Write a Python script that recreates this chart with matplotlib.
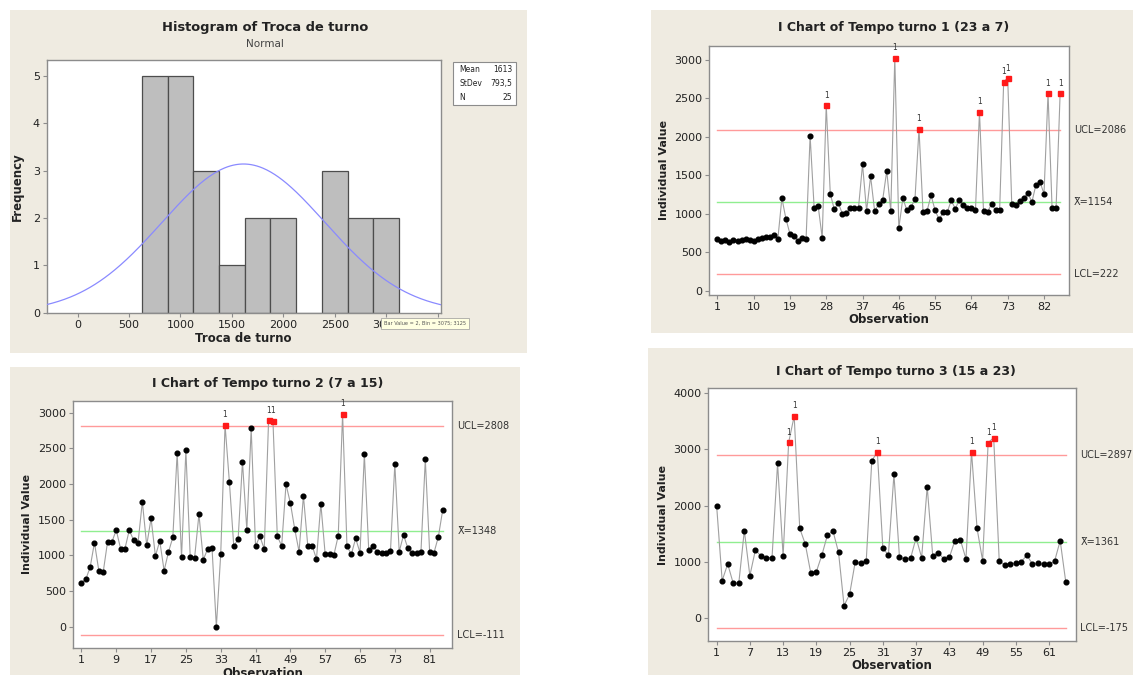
import numpy as np
import matplotlib
matplotlib.use("Agg")
import matplotlib.pyplot as plt
from matplotlib.patches import Rectangle
import matplotlib.transforms as mtransforms

# ---------------- data ----------------
hist_centers = [750, 1000, 1250, 1500, 1750, 2000, 2250, 2500, 2750, 3000]
hist_counts = [5, 5, 3, 1, 2, 2, 0, 3, 2, 2]
hist_mean = 1613
hist_sd = 793.5
hist_n = 25
hist_xticks = [0, 500, 1000, 1500, 2000, 2500, 3000, 3500]

turno1 = [674, 643, 661, 639, 665, 648, 665, 670, 661, 643,
          670, 687, 700, 700, 730, 674, 1204, 935, 739, 717,
          652, 687, 674, 2013, 1078, 1100, 687, 2413, 1261, 1057,
          1139, 1000, 1009, 1078, 1078, 1078, 1643, 1035, 1487, 1035,
          1122, 1183, 1557, 1035, 3030, 813, 1204, 1043, 1087, 1187,
          2105, 1022, 1039, 1239, 1043, 926, 1022, 1022, 1174, 1065,
          1183, 1109, 1078, 1074, 1043, 2326, 1035, 1022, 1130, 1043,
          1043, 2717, 2765, 1130, 1117, 1165, 1204, 1270, 1152, 1378,
          1413, 1261, 2565, 1078, 1078, 2565]
turno1_flags = [28, 45, 51, 66, 72, 73, 83, 86]
turno1_limits = {"UCL": 2086, "X": 1154, "LCL": 222}
turno1_xticks = [1, 10, 19, 28, 37, 46, 55, 64, 73, 82]

turno2 = [617, 664, 832, 1178, 785, 762, 1187, 1187, 1355, 1094,
          1094, 1355, 1210, 1173, 1752, 1140, 1519, 991, 1201, 785,
          1047, 1252, 2439, 972, 2472, 972, 967, 1575, 939, 1089,
          1107, 0, 1014, 2827, 2023, 1131, 1224, 2313, 1355, 2780,
          1131, 1266, 1089, 2895, 2883, 1271, 1131, 1995, 1734, 1369,
          1051, 1836, 1135, 1135, 949, 1724, 1014, 1014, 1005, 1276,
          2981, 1131, 1014, 1238, 1037, 2416, 1075, 1135, 1051, 1028,
          1028, 1065, 2280, 1051, 1285, 1098, 1028, 1028, 1051, 2346,
          1042, 1037, 1262, 1636]
turno2_flags = [34, 44, 45, 61]
turno2_limits = {"UCL": 2808, "X": 1348, "LCL": -111}
turno2_xticks = [1, 9, 17, 25, 33, 41, 49, 57, 65, 73, 81]

turno3 = [2000, 668, 963, 620, 620, 1554, 756, 1211, 1105, 1075,
          1075, 2747, 1105, 3119, 3586, 1595, 1317, 798, 827, 1123,
          1477, 1548, 1170, 225, 425, 993, 981, 1016, 2789, 2954,
          1241, 1123, 2552, 1081, 1052, 1063, 1430, 1075, 2334, 1111,
          1164, 1052, 1081, 1377, 1388, 1052, 2954, 1595, 1022, 3113,
          3202, 1016, 945, 963, 975, 1004, 1123, 957, 975, 957,
          957, 1016, 1377, 650]
turno3_flags = [14, 15, 30, 47, 50, 51]
turno3_limits = {"UCL": 2897, "X": 1361, "LCL": -175}
turno3_xticks = [1, 7, 13, 19, 25, 31, 37, 43, 49, 55, 61]

# ---------------- figure ----------------
W, H = 1133, 675
fig = plt.figure(figsize=(W / 100, H / 100), dpi=100)
fig.patch.set_facecolor("white")
plt.rcParams["font.family"] = ["DejaVu Sans"]

BEIGE = "#EFEBE1"
FRAME = "#8c8c8c"
TXT = "#222222"

bg = fig.add_axes([0, 0, 1, 1])
bg.set_xlim(0, W)
bg.set_ylim(H, 0)
bg.axis("off")
bg.set_zorder(0)


def panel(x0, y0, x1, y1):
    bg.add_patch(Rectangle((x0, y0), x1 - x0, y1 - y0, facecolor=BEIGE, edgecolor="none"))


def axes_px(x0, y0, x1, y1):
    ax = fig.add_axes([x0 / W, 1 - y1 / H, (x1 - x0) / W, (y1 - y0) / H])
    ax.set_zorder(2)
    ax.set_facecolor("white")
    for s in ax.spines.values():
        s.set_color(FRAME)
        s.set_linewidth(1.0)
    ax.tick_params(direction="out", length=3, width=0.8, color=FRAME,
                   labelsize=8, labelcolor=TXT, pad=2)
    return ax


def bgtext(x, y, s, **kw):
    bg.text(x, y, s, **kw)


panel(10, 10, 527, 353)
panel(651, 10, 1133, 333)
panel(10, 367, 520, 675)
panel(648, 348, 1133, 675)

# ---------------- histogram ----------------
ax = axes_px(46.7, 60, 440.7, 312.7)
bw = hist_centers[1] - hist_centers[0]
ax.bar(hist_centers, hist_counts, width=bw, color="#BEBEBE", edgecolor="#4d4d4d",
       linewidth=0.9, zorder=2)
xs = np.linspace(-301, 3531, 400)
ys = hist_n * bw / (hist_sd * np.sqrt(2 * np.pi)) * np.exp(-0.5 * ((xs - hist_mean) / hist_sd) ** 2)
ax.plot(xs, ys, color="#8a8aff", lw=0.9, zorder=3)
ax.set_xlim(-301, 3531)
ax.set_ylim(0, 5.34)
ax.set_xticks(hist_xticks)
ax.set_yticks(range(6))
ax.set_xlabel("Troca de turno", fontsize=8.5, fontweight="bold", color=TXT, labelpad=2)
ax.set_ylabel("Frequency", fontsize=8.5, fontweight="bold", color=TXT, labelpad=6)
bgtext(265, 27, "Histogram of Troca de turno", ha="center", va="center",
       fontsize=9.4, fontweight="bold", color=TXT)
bgtext(265, 44, "Normal", ha="center", va="center", fontsize=7.5, color="#444444")
# legend box
bg.add_patch(Rectangle((453, 62), 63, 43, facecolor="white", edgecolor=FRAME, lw=0.8))
for i, (k, v) in enumerate([("Mean", "1613"), ("StDev", "793,5"), ("N", "25")]):
    bgtext(459, 70 + i * 13.5, k, ha="left", va="center", fontsize=5.5, color=TXT)
    bgtext(512, 70 + i * 13.5, v, ha="right", va="center", fontsize=5.5, color=TXT)

# tooltip (drawn on top of everything)
top = fig.add_axes([0, 0, 1, 1])
top.set_xlim(0, W)
top.set_ylim(H, 0)
top.axis("off")
top.set_zorder(5)
top.add_patch(Rectangle((381, 318), 88, 11, facecolor="#FFFFE1", edgecolor="#999999", lw=0.5))
top.text(384, 323.5, "Bar Value = 2, Bin = 3075; 3125", ha="left", va="center",
         fontsize=3.6, color="#555555")


# ---------------- I charts ----------------
def ichart(box, data, flags, limits, xticks, xlim, ylim, yticks, title, title_xy):
    ax = axes_px(*box)
    n = np.arange(1, len(data) + 1)
    d = np.array(data, dtype=float)
    ax.plot(n, d, color="#a0a0a0", lw=0.8, zorder=3)
    mask = np.isin(n, flags)
    ax.plot(n[~mask], d[~mask], "o", color="black", ms=3.4, zorder=4)
    ax.plot(n[mask], d[mask], "s", color="#ff1a1a", ms=3.6, zorder=5)
    for xi, yi in zip(n[mask], d[mask]):
        ax.annotate("1", (xi, yi), xytext=(0, 4), textcoords="offset points",
                    ha="center", va="bottom", fontsize=5.5, color="#333333")
    ax.plot([1, len(data)], [limits["UCL"]] * 2, color="#ff9a9a", lw=1.0, zorder=2)
    ax.plot([1, len(data)], [limits["LCL"]] * 2, color="#ff9a9a", lw=1.0, zorder=2)
    ax.plot([1, len(data)], [limits["X"]] * 2, color="#90ee90", lw=1.0, zorder=2)
    ax.set_xlim(*xlim)
    ax.set_ylim(*ylim)
    ax.set_xticks(xticks)
    ax.set_yticks(yticks)
    ax.set_xlabel("Observation", fontsize=8.5, fontweight="bold", color=TXT, labelpad=1)
    ax.set_ylabel("Individual Value", fontsize=8, fontweight="bold", color=TXT, labelpad=4)
    tr = mtransforms.blended_transform_factory(ax.transAxes, ax.transData)
    for key, lab in (("UCL", "UCL=%d"), ("X", "X\u0304=%d"), ("LCL", "LCL=%d")):
        ax.text(1.013, limits[key], lab % limits[key], transform=tr, ha="left",
                va="center", fontsize=7, color="#333333", clip_on=False)
    bgtext(title_xy[0], title_xy[1], title, ha="center", va="center",
           fontsize=9, fontweight="bold", color=TXT)
    return ax


ichart((709.3, 45.7, 1069, 295), turno1, turno1_flags, turno1_limits, turno1_xticks,
       (-1.0, 88.2), (-56, 3186), [0, 500, 1000, 1500, 2000, 2500, 3000],
       "I Chart of Tempo turno 1 (23 a 7)", (894, 28))
ichart((72.7, 400.7, 452.3, 648.3), turno2, turno2_flags, turno2_limits, turno2_xticks,
       (-1.0, 86.2), (-303, 3168), [0, 500, 1000, 1500, 2000, 2500, 3000],
       "I Chart of Tempo turno 2 (7 a 15)", (268, 384))
ichart((708.3, 388.3, 1075.7, 641), turno3, turno3_flags, turno3_limits, turno3_xticks,
       (-0.5, 65.8), (-402, 4078), [0, 1000, 2000, 3000, 4000],
       "I Chart of Tempo turno 3 (15 a 23)", (896, 371))

fig.savefig("out.png", dpi=100, facecolor=fig.get_facecolor())
